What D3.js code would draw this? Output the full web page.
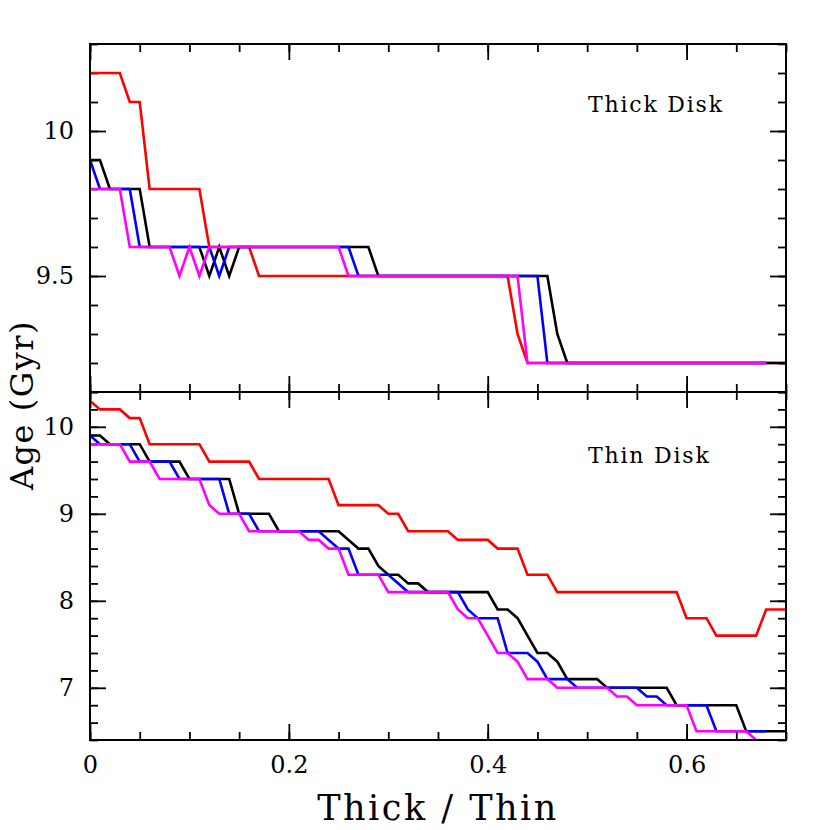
<!DOCTYPE html>
<head>
  <meta charset="utf-8">
  <title>Age vs Thick / Thin</title>
  <script src="https://d3js.org/d3.v7.min.js"></script>
  <style>
    body { margin: 0; background: #fff; }
    text { font-family: "DejaVu Serif", serif; fill: #000; }
  </style>
</head>
<body>
  <div id="chart"></div>
  <script>
    // [thick/thin ratio, age in Gyr]
    var thickRed     = [[0,10.2],[0.03,10.2],[0.04,10.1],[0.05,10.1],[0.06,9.8],[0.11,9.8],[0.12,9.6],[0.16,9.6],[0.17,9.5],[0.42,9.5],[0.43,9.3],[0.44,9.2],[0.70,9.2]];
    var thickBlack   = [[0,9.9],[0.01,9.9],[0.02,9.8],[0.05,9.8],[0.06,9.6],[0.11,9.6],[0.12,9.5],[0.13,9.6],[0.14,9.5],[0.15,9.6],[0.28,9.6],[0.29,9.5],[0.46,9.5],[0.47,9.3],[0.48,9.2],[0.70,9.2]];
    var thickBlue    = [[0,9.9],[0.01,9.8],[0.04,9.8],[0.05,9.6],[0.12,9.6],[0.13,9.5],[0.14,9.6],[0.26,9.6],[0.27,9.5],[0.45,9.5],[0.46,9.2],[0.68,9.2]];
    var thickMagenta = [[0,9.8],[0.03,9.8],[0.04,9.6],[0.08,9.6],[0.09,9.5],[0.10,9.6],[0.11,9.5],[0.12,9.6],[0.25,9.6],[0.26,9.5],[0.43,9.5],[0.44,9.2],[0.68,9.2]];

    var thinRed     = [[0,10.3],[0.01,10.2],[0.03,10.2],[0.04,10.1],[0.05,10.1],[0.06,9.8],[0.11,9.8],[0.12,9.6],[0.16,9.6],[0.17,9.4],[0.24,9.4],[0.25,9.1],[0.29,9.1],[0.30,9.0],[0.31,9.0],[0.32,8.8],[0.36,8.8],[0.37,8.7],[0.40,8.7],[0.41,8.6],[0.43,8.6],[0.44,8.3],[0.46,8.3],[0.47,8.1],[0.59,8.1],[0.60,7.8],[0.62,7.8],[0.63,7.6],[0.67,7.6],[0.68,7.9],[0.70,7.9]];
    var thinBlack   = [[0,9.9],[0.01,9.9],[0.02,9.8],[0.05,9.8],[0.06,9.6],[0.09,9.6],[0.10,9.4],[0.14,9.4],[0.15,9.0],[0.18,9.0],[0.19,8.8],[0.25,8.8],[0.26,8.7],[0.27,8.6],[0.28,8.6],[0.29,8.4],[0.30,8.3],[0.31,8.3],[0.32,8.2],[0.33,8.2],[0.34,8.1],[0.40,8.1],[0.41,7.9],[0.42,7.9],[0.43,7.8],[0.44,7.6],[0.45,7.4],[0.46,7.4],[0.47,7.3],[0.48,7.1],[0.51,7.1],[0.52,7.0],[0.58,7.0],[0.59,6.8],[0.65,6.8],[0.66,6.5],[0.70,6.5]];
    var thinBlue    = [[0,9.9],[0.01,9.8],[0.04,9.8],[0.05,9.6],[0.08,9.6],[0.09,9.4],[0.13,9.4],[0.14,9.0],[0.16,9.0],[0.17,8.8],[0.23,8.8],[0.24,8.7],[0.25,8.6],[0.26,8.6],[0.27,8.3],[0.30,8.3],[0.31,8.2],[0.32,8.1],[0.37,8.1],[0.38,7.9],[0.39,7.8],[0.41,7.8],[0.42,7.4],[0.44,7.4],[0.45,7.3],[0.46,7.1],[0.48,7.1],[0.49,7.0],[0.55,7.0],[0.56,6.9],[0.57,6.9],[0.58,6.8],[0.62,6.8],[0.63,6.5],[0.68,6.5]];
    var thinMagenta = [[0,9.8],[0.03,9.8],[0.04,9.6],[0.06,9.6],[0.07,9.4],[0.11,9.4],[0.12,9.1],[0.13,9.0],[0.15,9.0],[0.16,8.8],[0.21,8.8],[0.22,8.7],[0.23,8.7],[0.24,8.6],[0.25,8.6],[0.26,8.3],[0.29,8.3],[0.30,8.1],[0.36,8.1],[0.37,7.9],[0.38,7.8],[0.39,7.8],[0.41,7.4],[0.42,7.4],[0.43,7.3],[0.44,7.1],[0.46,7.1],[0.47,7.0],[0.52,7.0],[0.53,6.9],[0.54,6.9],[0.55,6.8],[0.60,6.8],[0.61,6.5],[0.66,6.5],[0.67,6.4]];

    var xTickLabels = [0, 0.2, 0.4, 0.6];
    var thickTickLabels = [9.5, 10];
    var thinTickLabels = [7, 8, 9, 10];

    var width = 830, height = 830;
    var plotLeft = 90, plotRight = 786, plotTop = 44, plotMid = 392, plotBottom = 740;

    var svg = d3.select('#chart').append('svg')
      .attr('width', width)
      .attr('height', height);

    var x = d3.scaleLinear().domain([0, 0.7]).range([plotLeft, plotRight]);

    var panels = [
      { name: 'thick', y: d3.scaleLinear().domain([9.1, 10.3]).range([plotMid, plotTop]),
        minor: d3.range(9.1, 10.31, 0.1), major: thickTickLabels, fmt: d3.format('.1f'),
        series: [thickRed, thickBlack, thickBlue, thickMagenta], label: 'Thick Disk', labelY: 112 },
      { name: 'thin', y: d3.scaleLinear().domain([6.4, 10.4]).range([plotBottom, plotMid]),
        minor: d3.range(6.4, 10.41, 0.2), major: thinTickLabels, fmt: d3.format('d'),
        series: [thinRed, thinBlack, thinBlue, thinMagenta], label: 'Thin Disk', labelY: 463 }
    ];
    var colors = ['#ff0000', '#000000', '#0000ff', '#ff00ff'];

    var xMinor = d3.range(0, 0.701, 0.05);
    var bigTick = 16, smallTick = 8;

    function styleAxis(g) {
      g.attr('font-size', null).attr('font-family', null);
      g.select('.domain').remove();
      g.selectAll('line').attr('stroke', '#000').attr('stroke-width', 1.8);
      g.selectAll('text').attr('font-size', 24);
    }

    panels.forEach(function (p) {
      var y = p.y;
      var y0 = y.range()[0], y1 = y.range()[1];
      var fmt = function (d) { return d === 10 ? '10' : p.fmt(d); };

      svg.append('clipPath').attr('id', 'clip-' + p.name)
        .append('rect').attr('x', plotLeft).attr('y', y1).attr('width', plotRight - plotLeft).attr('height', y0 - y1);

      // ticks on all four sides, pointing inward
      svg.append('g').attr('transform', 'translate(' + plotLeft + ',0)')
        .call(d3.axisLeft(y).tickValues(p.minor).tickSize(-smallTick).tickFormat(''))
        .call(styleAxis);
      svg.append('g').attr('transform', 'translate(' + plotLeft + ',0)')
        .call(d3.axisLeft(y).tickValues(p.major).tickSize(-bigTick).tickPadding(16).tickFormat(fmt))
        .call(styleAxis);
      svg.append('g').attr('transform', 'translate(' + plotRight + ',0)')
        .call(d3.axisRight(y).tickValues(p.minor).tickSize(-smallTick).tickFormat(''))
        .call(styleAxis);
      svg.append('g').attr('transform', 'translate(' + plotRight + ',0)')
        .call(d3.axisRight(y).tickValues(p.major).tickSize(-bigTick).tickFormat(''))
        .call(styleAxis);

      svg.append('g').attr('transform', 'translate(0,' + y1 + ')')
        .call(d3.axisTop(x).tickValues(xMinor).tickSize(-smallTick).tickFormat(''))
        .call(styleAxis);
      svg.append('g').attr('transform', 'translate(0,' + y1 + ')')
        .call(d3.axisTop(x).tickValues(xTickLabels).tickSize(-bigTick).tickFormat(''))
        .call(styleAxis);
      svg.append('g').attr('transform', 'translate(0,' + y0 + ')')
        .call(d3.axisBottom(x).tickValues(xMinor).tickSize(-smallTick).tickFormat(''))
        .call(styleAxis);
      svg.append('g').attr('transform', 'translate(0,' + y0 + ')')
        .call(d3.axisBottom(x).tickValues(xTickLabels).tickSize(-bigTick).tickPadding(16)
          .tickFormat(p.name === 'thin' ? d3.format('') : ''))
        .call(styleAxis);

      var line = d3.line().x(function (d) { return x(d[0]); }).y(function (d) { return y(d[1]); });
      svg.append('g').attr('clip-path', 'url(#clip-' + p.name + ')')
        .selectAll('path').data(p.series).enter().append('path')
          .attr('d', line)
          .attr('fill', 'none')
          .attr('stroke', function (d, i) { return colors[i]; })
          .attr('stroke-width', 2.6);

      svg.append('text')
        .attr('x', 588).attr('y', p.labelY)
        .attr('font-size', 22).attr('letter-spacing', 1.8)
        .text(p.label);
    });

    // frame
    svg.append('rect')
      .attr('x', plotLeft).attr('y', plotTop).attr('width', plotRight - plotLeft).attr('height', plotBottom - plotTop)
      .attr('fill', 'none').attr('stroke', '#000').attr('stroke-width', 2);
    svg.append('line')
      .attr('x1', plotLeft).attr('x2', plotRight).attr('y1', plotMid).attr('y2', plotMid)
      .attr('stroke', '#000').attr('stroke-width', 2);

    svg.append('text')
      .attr('x', (plotLeft + plotRight) / 2).attr('y', 820)
      .attr('text-anchor', 'middle').attr('font-size', 35).attr('letter-spacing', 2.5)
      .text('Thick / Thin');

    svg.append('text')
      .attr('transform', 'translate(33,405) rotate(-90)')
      .attr('text-anchor', 'middle').attr('font-size', 32).attr('letter-spacing', 1.5)
      .text('Age (Gyr)');
  </script>
</body>
